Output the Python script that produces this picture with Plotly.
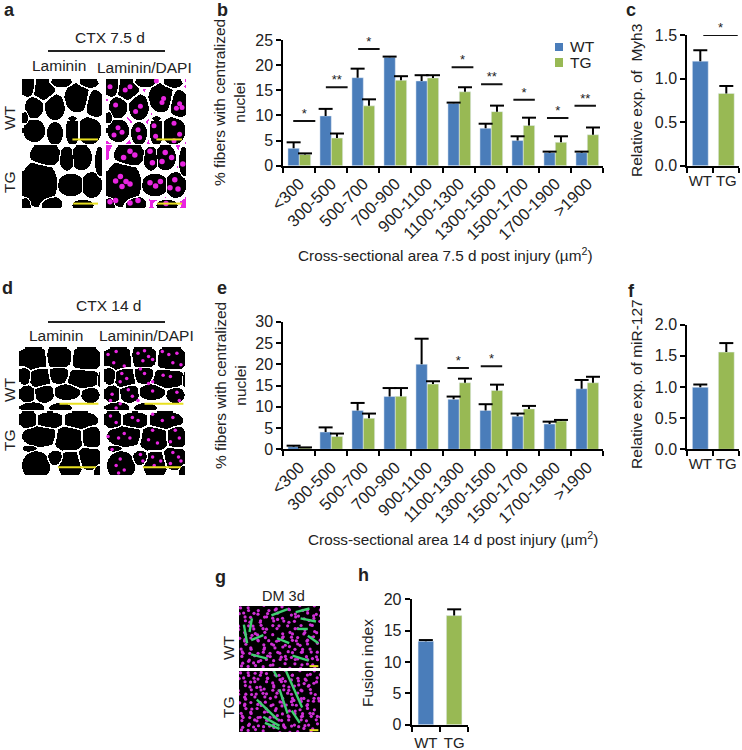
import math
import numpy as np
import plotly.graph_objects as go

# ---------- chart data ----------
size_bins = ["<300", "300-500", "500-700", "700-900", "900-1100", "1100-1300",
             "1300-1500", "1500-1700", "1700-1900", ">1900"]
b_wt = [3.45, 9.9, 17.5, 21.55, 16.85, 12.4, 7.45, 5.0, 2.6, 2.6]
b_wt_err = [1.2, 1.4, 1.8, 0.15, 1.15, 0.15, 0.9, 0.85, 0.2, 0.2]
b_tg = [2.25, 5.5, 11.9, 17.0, 17.45, 14.7, 10.75, 8.0, 4.65, 6.15]
b_tg_err = [0.2, 0.9, 1.3, 0.8, 0.55, 0.9, 1.2, 1.55, 1.2, 1.45]
b_sig = [(-0.19, 0.5, 8.9, "*"), (0.83, 1.51, 15.6, "**"), (1.84, 2.51, 23.2, "*"),
         (2.85, 3.52, 25.3, "**"), (4.76, 5.44, 19.6, "*"), (5.68, 6.35, 16.2, "**"),
         (6.69, 7.36, 13.1, "*"), (7.74, 8.41, 9.5, "*"), (8.6, 9.27, 11.9, "**")]

e_wt = [0.6, 4.05, 9.15, 12.4, 20.0, 11.75, 9.15, 7.75, 5.95, 14.25]
e_wt_err = [0.25, 1.1, 1.75, 2.0, 6.0, 0.65, 1.45, 0.65, 0.55, 2.05]
e_tg = [0.3, 3.0, 7.3, 12.45, 15.35, 15.65, 13.85, 9.5, 6.65, 15.65]
e_tg_err = [0.15, 0.7, 1.1, 1.95, 0.65, 0.95, 1.35, 0.7, 0.25, 1.4]
e_sig = [(4.63, 5.3, 19.1, "*"), (5.67, 6.34, 19.5, "*")]

groups = ["WT", "TG"]
c_val, c_err = [1.2, 0.83], [0.125, 0.085]
c_sig = [(0.115, 1.44, 1.5, "*")]
f_val, f_err = [0.995, 1.56], [0.045, 0.145]
f_sig = [(-0.08, 1.24, 2.07, "*")]
h_val, h_err = [13.3, 17.4], [0.2, 1.0]
h_sig = [(-0.11, 1.05, 21.06, "*")]

BLUE, GREEN = "#4a7dba", "#98b954"
MAGENTA = "#e825e0"
FONT = "Liberation Sans, Arial, sans-serif"

# ---------- micrograph content (fractions of each image) ----------
fib_a_wt = [(.07,.10,.08,.13),(.25,.14,.12,.14),(.47,.04,.12,.06),(.68,.27,.13,.18),(.90,.37,.10,.17),
            (.82,.05,.10,.06),(.14,.42,.09,.14),(.40,.42,.10,.16),(.14,.78,.11,.14),(.40,.82,.08,.14),
            (.62,.78,.07,.18),(.83,.78,.12,.17),(.03,.58,.03,.08),(.62,.60,.05,.04)]
fib_a_tg = [(.20,.60,.19,.31),(.28,.14,.16,.16),(.55,.20,.08,.16),(.73,.18,.11,.17),(.96,.25,.05,.2),
            (.60,.62,.14,.15),(.86,.62,.11,.17),(.35,.92,.12,.10),(.75,.94,.11,.07),(.04,.93,.05,.1)]
nuc_a_wt = [(.30,.12),(.24,.17),(.72,.3),(.7,.36),(.92,.38),(.88,.45),(.95,.44),(.12,.4),(.43,.42),(.37,.5),(.15,.75),
            (.2,.82),(.1,.86),(.4,.78),(.42,.9),(.6,.72),(.62,.88),(.85,.68),(.92,.85),(.85,.95),(.05,.12),(.63,.03)]
nuc_a_tg = [(.18,.5),(.12,.57),(.25,.58),(.2,.66),(.3,.62),(.3,.1),(.22,.2),(.36,.16),(.55,.1),(.58,.28),(.74,.12),
            (.7,.26),(.82,.2),(.55,.6),(.62,.65),(.68,.58),(.86,.55),(.9,.7),(.8,.68),(.3,.92),(.4,.88),(.75,.93),
            (.96,.3),(.05,.9),(.12,.88)]
fib_d_wt = [(.17,.17,.17,.15),(.47,.15,.15,.14),(.82,.17,.15,.17),(.06,.44,.06,.12),(.25,.47,.11,.14),
            (.48,.43,.11,.11),(.78,.48,.17,.13),(.99,.50,.03,.1),(.09,.73,.08,.11),(.30,.72,.10,.12),
            (.58,.70,.13,.10),(.87,.75,.09,.10),(.15,.95,.12,.07),(.50,.95,.11,.06)]
fib_d_tg = [(.10,.12,.10,.11),(.37,.13,.15,.10),(.74,.13,.18,.11),(.25,.38,.18,.13),(.60,.42,.15,.16),
            (.88,.40,.10,.15),(.12,.57,.07,.04),(.20,.84,.14,.18),(.44,.72,.08,.09),(.62,.82,.12,.18),
            (.86,.72,.12,.15),(.97,.95,.05,.1)]
nuc_d_wt = [(.05,.12),(.15,.07),(.12,.25),(.25,.3),(.42,.1),(.5,.06),(.55,.15),(.6,.2),(.48,.22),(.72,.07),(.8,.12),(.9,.1),(.85,.25),(.95,.28),
            (.22,.42),(.28,.5),(.2,.55),(.5,.42),(.45,.35),(.73,.45),(.82,.47),(.6,.55),(.55,.58),(.1,.75),(.08,.85),(.3,.68),(.35,.78),(.42,.85),
            (.6,.7),(.9,.72),(.2,.9),(.15,.97),(.93,.85)]
nuc_d_tg = [(.08,.08),(.15,.18),(.35,.1),(.42,.15),(.6,.05),(.72,.15),(.85,.1),(.25,.35),(.32,.42),(.18,.42),(.6,.3),(.55,.45),(.66,.5),
            (.88,.3),(.93,.42),(.82,.48),(.85,.65),(.92,.72),(.95,.78),(.82,.82),(.45,.68),(.48,.78),(.6,.72),(.62,.85),(.7,.78),(.2,.75),(.15,.85),
            (.25,.92),(.18,.97),(.1,.6),(.05,.4)]
bar_a_wt = (.63,.95,.93)
bar_a_tg = (.64,.95,.93)
bar_d_wt = (.5,.98,.9)
bar_d_tg = (.48,.95,.88)

stipple_g_wt = [
 "o.o..o.o.o..o.o.o..o.o.o.o",
 ".o.o.o...o.o...o.o..o.o..o",
 "o..o.o.o..o.o.o..o.o...o.o",
 ".o.o...o.o..o..o.o..o.o.o.",
 "o.o.o.o...o.o.o...o.o..o.o",
 "..o.o..o.o.o...o.o..o.o...",
 "o.o..o.o...o.o...o.o.o..o.",
 ".o.o.o..o..o..o.o.o.o.o.o.",
 "o.o.o.o.o..o.o..o.o...o.o.",
 ".o...o.o.o.o.o.o.o.o.o..oo",
 "o.o.o...o.o..o.o..o.o.o...",
 ".o.o.o.o.o.o.o..o.o.o.o.o.",
 "o..o.o..o.o.o.o.o..o.o.o.o",
 ".o.o..o.o.o..o.o.o.o...o..",
 "o.o.o.o..o.o.o...o.o.o.o.o",
 ".o.o.o.o.o..o.o.o.o.o.o.o.",
]
stipple_g_tg = [
 "o.o.o.o.o..o.o.o.o.o.o.o.o",
 ".o.o.o.o.o.o.o..o.o..o.o..",
 "o..o.o..o.o..o.o.o.o.o..o.",
 ".o.o.o.o.o.o.o.o..o.o.o.oo",
 "o.o..o.o..o.o.o.o.o.o.o...",
 ".o.o.o.o.o.o..o.o..o..o.o.",
 "o.o.o..o.o.o.o.o.o.o.o.o.o",
 ".o..o.o.o...o.o..o.o.o.o.o",
 "o.o.o.o.o.o.o.o.o.o.o.o.o.",
 ".o.o..o.o.o.o.o..o.o.o.o..",
 "o.o.o.o..o.o...o.o..o.o.o.",
 ".o.o.o.o.o..o.o.o.o.o.o.oo",
 "o..o.o.o.o.o.o.o...o.o.o..",
 ".o.o.o..o.o.o.o.o.o.o.o.o.",
 "o.o.o.o.o.o...o.o.o.o..o.o",
 ".o.o.o.o..o.o.o.o..o.o.o..",
]
tubes_g_wt = [(.06,.3,.1,.6),(.16,.2,.13,.42),(.15,.55,.3,.47),(.4,.15,.6,.05),(.7,.1,.87,.04),(.76,.2,.95,.25),
              (.72,.37,.85,.37),(.47,.52,.62,.6),(.85,.48,.98,.6),(.66,.8,.86,.88),(.15,.78,.35,.85)]
tubes_g_tg = [(.43,.0,.47,.1),(.58,0,.78,.6),(.5,.3,.6,.7),(.22,.47,.48,.8),(.3,.75,.5,.9),(.65,.65,.75,.85),(.32,.85,.5,.95)]

# ---------- layout helpers ----------
W, H = 742, 750
fig = go.Figure()
layout_axes = {}
shapes, annotations = [], []
axis_no = [0]

def new_axes(x0, x1, ytop, ybot, xkw, ykw):
    axis_no[0] += 1
    n = axis_no[0]
    s = "" if n == 1 else str(n)
    layout_axes["xaxis" + s] = dict(domain=[x0 / W, x1 / W], anchor="y" + s, automargin=False, **xkw)
    layout_axes["yaxis" + s] = dict(domain=[1 - ybot / H, 1 - ytop / H], anchor="x" + s, automargin=False, **ykw)
    return "x" + s, "y" + s

def text(x, y, s, size=15, angle=0, bold=False, anchor="center"):
    annotations.append(dict(xref="paper", yref="paper", x=x / W, y=1 - y / H, text=("<b>%s</b>" % s) if bold else s,
                            showarrow=False, xanchor=anchor, yanchor="middle", textangle=angle,
                            font=dict(family=FONT, size=size, color="#222")))

def style_x(labels, angle=0, size=15, standoff=0):
    n = len(labels)
    return dict(range=[-0.5, n - 0.5], tickmode="array", tickvals=list(range(n)), ticktext=labels, ticks="",
                tickangle=angle, tickfont=dict(family=FONT, size=size, color="#222"), showgrid=False, zeroline=False,
                ticklabelstandoff=standoff, showline=True, linecolor="black", linewidth=2,
                minor=dict(tickmode="array", tickvals=[i - 0.5 for i in range(n + 1)], ticks="outside", ticklen=5,
                           tickwidth=2, tickcolor="black", showgrid=False))

def style_y(ymax, dtick, fmt=""):
    return dict(range=[0, ymax], dtick=dtick, tick0=0, tickformat=fmt, ticks="outside", ticklen=5, tickwidth=2,
                tickcolor="black", tickfont=dict(family=FONT, size=16, color="#222"), showgrid=False, zeroline=False,
                showline=True, linecolor="black", linewidth=2)

def stem(arr):
    # upward stem only: the cap sits on top as a marker so no line is drawn on the bar's top edge
    return dict(type="data", array=arr, symmetric=False, arrayminus=[0] * len(arr), color="black", thickness=2, width=0)

def caps(xa, ya, xs, vals, errs):
    fig.add_trace(go.Scatter(x=xs, y=[v + e for v, e in zip(vals, errs)], mode="markers", xaxis=xa, yaxis=ya, cliponaxis=False,
                             marker=dict(symbol="line-ew", size=10, line=dict(color="black", width=2)),
                             showlegend=False, hoverinfo="skip"))

def sig(xa, ya, items):
    for x0, x1, y, label in items:
        fig.add_trace(go.Scatter(x=[x0, x1], y=[y, y], mode="lines", line=dict(color="#111", width=2), xaxis=xa, yaxis=ya,
                                 cliponaxis=False, showlegend=False, hoverinfo="skip"))
        fig.add_trace(go.Scatter(x=[(x0 + x1) / 2], y=[y], mode="text", text=[label], textposition="top center",
                                 textfont=dict(family=FONT, size=13, color="#222"), xaxis=xa, yaxis=ya, cliponaxis=False,
                                 showlegend=False, hoverinfo="skip"))

BARGAP = 0.29

def grouped(xa, ya, wt, wt_e, tg, tg_e):
    xs = list(range(len(size_bins)))
    fig.add_trace(go.Bar(x=xs, y=wt, error_y=stem(wt_e), marker_color=BLUE, name="WT", xaxis=xa, yaxis=ya, showlegend=False))
    fig.add_trace(go.Bar(x=xs, y=tg, error_y=stem(tg_e), marker_color=GREEN, name="TG", xaxis=xa, yaxis=ya, showlegend=False))
    half = (1 - BARGAP) / 4
    caps(xa, ya, [x - half for x in xs], wt, wt_e)
    caps(xa, ya, [x + half for x in xs], tg, tg_e)

def pair(xa, ya, vals, errs, width):
    fig.add_trace(go.Bar(x=[0, 1], y=vals, error_y=stem(errs), width=width, marker_color=[BLUE, GREEN], xaxis=xa, yaxis=ya, showlegend=False))
    caps(xa, ya, [0, 1], vals, errs)

hidden = dict(range=[0, 1], visible=False, fixedrange=True)
hidden_y = dict(range=[1, 0], visible=False, fixedrange=True)

def network(fibers, nx, ny, ratio, limit, dapi):
    # fibre cross-sections: black cells with a white laminin network between them
    xs = (np.arange(nx) + 0.5) / nx
    ys = (np.arange(ny) + 0.5) / ny
    X, Y = np.meshgrid(xs, ys)
    d = np.stack([np.hypot((X - f[0]) / f[2], (Y - f[1]) / f[3]) for f in fibers])
    d.sort(axis=0)
    z = ((d[1] / d[0] < ratio) | (d[0] > limit)).astype(float) * 0.5
    if dapi:
        z[d[0] > limit + 0.4] = 1.0
    return xs, ys, z

def micrograph(x0, x1, ytop, ybot, fibers, nuclei=None, bar=None, nuc_size=6, ratio=1.16, limit=1.25, dapi=False):
    xa, ya = new_axes(x0, x1, ytop, ybot, hidden, hidden_y)
    xs, ys, z = network(fibers, int(x1 - x0), int(ybot - ytop), ratio, limit, dapi)
    fig.add_trace(go.Heatmap(x=xs, y=ys, z=z, colorscale=[[0, "black"], [0.5, "white"], [1, MAGENTA]], showscale=False, zmin=0, zmax=1,
                             xaxis=xa, yaxis=ya, hoverinfo="skip", zsmooth="best"))
    if nuclei:
        fig.add_trace(go.Scatter(x=[p[0] for p in nuclei], y=[p[1] for p in nuclei], mode="markers", xaxis=xa, yaxis=ya,
                                 marker=dict(color=MAGENTA, size=nuc_size, line_width=0), showlegend=False, hoverinfo="skip"))
    if bar:
        fig.add_trace(go.Scatter(x=[bar[0], bar[1]], y=[bar[2], bar[2]], mode="lines", xaxis=xa, yaxis=ya,
                                 line=dict(color="#e8e020", width=2), showlegend=False, hoverinfo="skip"))

def myotube_panel(x0, x1, ytop, ybot, rows, tubes):
    xa, ya = new_axes(x0, x1, ytop, ybot, hidden, hidden_y)
    shapes.append(dict(type="rect", xref=xa, yref=ya, x0=0, x1=1, y0=0, y1=1, fillcolor="black", line_width=0, layer="below"))
    xs, ys = [], []
    for r, row in enumerate(rows):
        for c, ch in enumerate(row):
            if ch == "o":
                xs.append((c + 0.5 + 0.7 * math.sin(12.9 * c + 78.2 * r)) / len(row))
                ys.append((r + 0.5 + 0.7 * math.sin(39.3 * c + 17.7 * r)) / len(rows))
    fig.add_trace(go.Scatter(x=xs, y=ys, mode="markers", xaxis=xa, yaxis=ya, marker=dict(color="#cf2fd6", size=3.2, line_width=0),
                             showlegend=False, hoverinfo="skip"))
    for t in tubes:
        fig.add_trace(go.Scatter(x=[t[0], t[2]], y=[t[1], t[3]], mode="lines", xaxis=xa, yaxis=ya,
                                 line=dict(color="#3fcf70", width=2.4), showlegend=False, hoverinfo="skip"))
    fig.add_trace(go.Scatter(x=[.87, .98], y=[.97, .97], mode="lines", xaxis=xa, yaxis=ya, line=dict(color="#e8e020", width=2),
                             showlegend=False, hoverinfo="skip"))

def rule(x0, x1, y):
    shapes.append(dict(type="line", xref="paper", yref="paper", x0=x0 / W, x1=x1 / W, y0=1 - y / H, y1=1 - y / H,
                       line=dict(color="#222", width=2)))

def swatch(x0, x1, ytop, ybot, color):
    shapes.append(dict(type="rect", xref="paper", yref="paper", x0=x0 / W, x1=x1 / W, y0=1 - ybot / H, y1=1 - ytop / H,
                       fillcolor=color, line_width=0))

# ---------- charts ----------
xa, ya = new_axes(283.3, 603.3, 40, 165.7, style_x(size_bins, -45, 16.5), style_y(25, 5))
grouped(xa, ya, b_wt, b_wt_err, b_tg, b_tg_err)
sig(xa, ya, b_sig)

xa, ya = new_axes(283.3, 603.3, 321.7, 449.3, style_x(size_bins, -45, 16.5), style_y(30, 5))
grouped(xa, ya, e_wt, e_wt_err, e_tg, e_tg_err)
sig(xa, ya, e_sig)

xa, ya = new_axes(687.3, 739.3, 35, 165.7, style_x(groups), style_y(1.5, 0.5, ".1f"))
pair(xa, ya, c_val, c_err, 0.61)
sig(xa, ya, c_sig)

xa, ya = new_axes(687.3, 739.3, 324.7, 449.3, style_x(groups), style_y(2, 0.5, ".1f"))
pair(xa, ya, f_val, f_err, 0.61)
sig(xa, ya, f_sig)

xa, ya = new_axes(411.7, 468.3, 599.3, 724.7, style_x(groups, standoff=3), style_y(20, 5))
pair(xa, ya, h_val, h_err, 0.55)
sig(xa, ya, h_sig)

# ---------- micrographs ----------
micrograph(22, 102, 79, 144, fib_a_wt, bar=bar_a_wt, ratio=1.2, limit=1.25)
micrograph(22, 102, 145, 208, fib_a_tg, bar=bar_a_tg, ratio=1.12, limit=1.2)
micrograph(106, 186, 79, 144, fib_a_wt, nuc_a_wt, bar_a_wt, 5, ratio=1.2, limit=1.25, dapi=True)
micrograph(106, 186, 145, 208, fib_a_tg, nuc_a_tg, bar_a_tg, 5.5, ratio=1.12, limit=1.2, dapi=True)
micrograph(19, 100, 347, 410, fib_d_wt, bar=bar_d_wt)
micrograph(19, 100, 411, 475, fib_d_tg, bar=bar_d_tg)
micrograph(104, 185, 347, 410, fib_d_wt, nuc_d_wt, bar_d_wt, 3.5)
micrograph(104, 185, 411, 475, fib_d_tg, nuc_d_tg, bar_d_tg, 3.5)
myotube_panel(239, 320, 606, 668, stipple_g_wt, tubes_g_wt)
myotube_panel(239, 320, 671, 732, stipple_g_tg, tubes_g_tg)

# ---------- text ----------
for x, y, s in [(9, 10, "a"), (222, 10, "b"), (631, 10, "c"), (7, 288, "d"), (222, 288, "e"), (631, 291, "f"),
                (221, 577, "g"), (363, 575, "h")]:
    text(x, y, s, size=18, bold=True)

text(110, 37, "CTX 7.5 d", 15.5)
rule(48, 165, 51)
text(59, 66, "Laminin", 15.5)
text(144, 67, "Laminin/DAPI", 15.5)
text(9, 118, "WT", 15.5, -90)
text(9, 182, "TG", 15.5, -90)
text(108, 306, "CTX 14 d", 15.5)
rule(48, 165, 322)
text(56, 335, "Laminin", 15.5)
text(146, 336, "Laminin/DAPI", 15.5)
text(9, 390, "WT", 15.5, -90)
text(9, 440, "TG", 15.5, -90)
text(283, 596, "DM 3d", 14.5)
text(228, 648, "WT", 15.5, -90)
text(228, 707, "TG", 15.5, -90)

text(230, 103, "% fibers with centralized<br>nuclei", 15.5, -90)
text(230, 386, "% fibers with centralized<br>nuclei", 15.5, -90)
text(636, 101, "Relative exp. of  Myh3", 15.5, -90)
text(636, 384, "Relative exp. of miR-127", 15.5, -90)
text(367, 663, "Fusion index", 15.5, -90)
text(445, 254, "Cross-sectional area 7.5 d post injury (µm<sup>2</sup>)", 15.3)
text(453, 538, "Cross-sectional area 14 d post injury (µm<sup>2</sup>)", 15.3)

swatch(555, 563, 43, 51, BLUE)
swatch(555, 563, 58, 67, GREEN)
text(568, 47, "WT", 15.5, anchor="left")
text(568, 63, "TG", 15.5, anchor="left")

fig.update_layout(
    width=W, height=H, autosize=False, margin=dict(l=0, r=0, t=0, b=0, pad=0),
    paper_bgcolor="white", plot_bgcolor="white", barmode="group", bargap=BARGAP, bargroupgap=0,
    shapes=shapes, annotations=annotations, showlegend=False,
    font=dict(family=FONT),
    **layout_axes,
)
fig.write_html("out.html", config={"displayModeBar": False}, post_script="document.body.style.margin='0';")
